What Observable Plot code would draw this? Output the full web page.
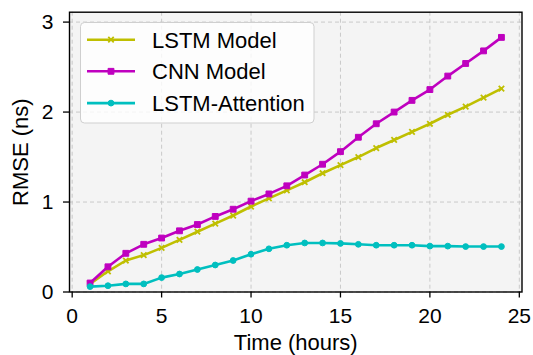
<!DOCTYPE html>
<html><head><meta charset="utf-8">
<script src="https://cdn.jsdelivr.net/npm/d3@7"></script>
<script src="https://cdn.jsdelivr.net/npm/@observablehq/plot@0.6"></script>
<style>
body{margin:0;background:#fff;}
#wrap{position:relative;width:533px;height:355px;}
#wrap svg{position:absolute;left:0;top:0;}
</style></head><body><div id="wrap"></div>
<script>
const hours = [1,2,3,4,5,6,7,8,9,10,11,12,13,14,15,16,17,18,19,20,21,22,23,24];
const lstmModel = [0.09,0.23,0.35,0.41,0.49,0.58,0.67,0.76,0.85,0.95,1.04,1.13,1.22,1.32,1.41,1.50,1.60,1.69,1.78,1.87,1.97,2.06,2.16,2.26];
const cnnModel = [0.10,0.28,0.43,0.53,0.60,0.68,0.75,0.84,0.92,1.01,1.09,1.18,1.30,1.42,1.56,1.72,1.87,2.00,2.13,2.25,2.40,2.54,2.68,2.83];
const lstmAttention = [0.06,0.07,0.09,0.09,0.16,0.20,0.25,0.30,0.35,0.42,0.48,0.52,0.545,0.545,0.54,0.53,0.52,0.52,0.52,0.51,0.51,0.505,0.505,0.505];
const seriesNames = ["LSTM Model","CNN Model","LSTM-Attention"];
const seriesColors = ["#bfbf00","#bf00bf","#00bfbf"];
const seriesSymbols = ["times","square","circle"];
const xTicks = [0,5,10,15,20,25];
const yTicks = [0,1,2,3];
const xLabel = "Time (hours)";
const yLabel = "RMSE (ns)";

const seriesValues = [lstmModel, cnnModel, lstmAttention];
const tables = seriesValues.map((arr, i) => arr.map((v, j) => ({x: hours[j], y: v, s: seriesNames[i]})));

const FONT = "'Liberation Sans', Arial, sans-serif";
const markSets = [];
tables.forEach((t, i) => {
  markSets.push(Plot.line(t, {x: "x", y: "y", stroke: seriesColors[i], strokeWidth: 2.6}));
  markSets.push(Plot.dot(t, {x: "x", y: "y", symbol: () => seriesSymbols[i],
    fill: seriesColors[i], stroke: seriesColors[i], strokeWidth: i === 0 ? 1.8 : 1,
    r: i === 0 ? 2.6 : i === 1 ? 3.3 : 2.9}));
});

const chart = Plot.plot({
  width: 533, height: 355,
  marginLeft: 69, marginRight: 11.5, marginTop: 11.7, marginBottom: 63.5,
  style: {fontSize: "21px", fontFamily: FONT, background: "transparent", color: "#000", overflow: "visible"},
  x: {domain: [-0.15, 25.15]},
  y: {domain: [0, 3.11]},
  symbol: {type: "identity"},
  marks: [
    Plot.frame({fill: "#f4f4f4", stroke: "none"}),
    Plot.gridX(xTicks, {stroke: "#c9c9c9", strokeOpacity: 1, strokeWidth: 1, strokeDasharray: "4,3"}),
    Plot.gridY(yTicks, {stroke: "#c9c9c9", strokeOpacity: 1, strokeWidth: 1, strokeDasharray: "4,3"}),
    Plot.axisX(xTicks, {tickSize: 6, tickPadding: 10, strokeWidth: 1.3, tickFormat: "d", label: xLabel, labelAnchor: "center", labelArrow: "none", labelOffset: 58, fontSize: 21}),
    Plot.axisY(yTicks, {tickSize: 6, tickPadding: 10, strokeWidth: 1.3, tickFormat: "d", label: yLabel, labelAnchor: "center", labelArrow: "none", labelOffset: 57, fontSize: 21}),
    ...markSets,
    Plot.frame({stroke: "#000", strokeWidth: 1.4})
  ]
});
const wrap = document.getElementById("wrap");
wrap.appendChild(chart);
d3.select(chart).selectAll("[aria-label='x-axis label'] text, [aria-label='y-axis label'] text").style("font-size", "22px");

// legend overlay
const lg = d3.select(wrap).append("svg").attr("width", 533).attr("height", 355)
  .style("pointer-events", "none").style("font-family", FONT);
lg.append("rect").attr("x", 80.5).attr("y", 22.5).attr("width", 233.5).attr("height", 100.5)
  .attr("rx", 4).attr("fill", "rgba(255,255,255,0.8)").attr("stroke", "#cfcfcf").attr("stroke-width", 1);
const rowY = [39.7, 71.3, 103.1];
seriesNames.forEach((name, i) => {
  const g = lg.append("g");
  g.append("line").attr("x1", 87).attr("x2", 135).attr("y1", rowY[i]).attr("y2", rowY[i])
    .attr("stroke", seriesColors[i]).attr("stroke-width", 2.6);
  const sym = [d3.symbolTimes, d3.symbolSquare, d3.symbolCircle][i];
  const rr = [2.6, 3.3, 2.9][i];
  g.append("path").attr("d", d3.symbol(sym, rr * rr * Math.PI)())
    .attr("transform", `translate(111,${rowY[i]})`)
    .attr("fill", seriesColors[i]).attr("stroke", seriesColors[i]).attr("stroke-width", i === 0 ? 1.8 : 1);
  g.append("text").attr("x", 152).attr("y", rowY[i]).attr("dy", "0.36em")
    .attr("font-size", 22).attr("fill", "#000").text(name);
});
</script></body></html>
